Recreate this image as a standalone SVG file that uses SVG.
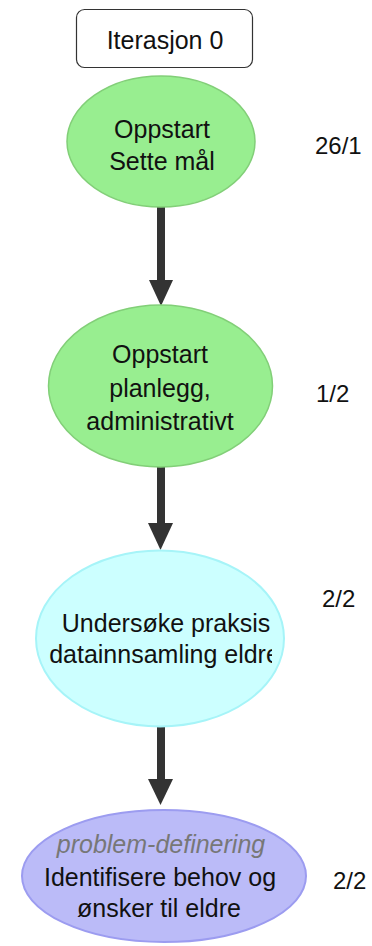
<svg xmlns="http://www.w3.org/2000/svg" width="372" height="946" viewBox="0 0 372 946">
  <defs>
    <style>
      text { font-family: "Liberation Sans", Arial, sans-serif; fill: #111; }
      .lbl { font-size: 25px; text-anchor: middle; }
      .side { font-size: 24px; }
      .sub { font-style: italic; fill: #777; }
      .arrow { stroke: #333; stroke-width: 8; fill: none; }
      .head { fill: #333; }
      .green { fill: #98ee90; stroke: #82cf78; stroke-width: 1.5; }
      .cyan { fill: #ccffff; stroke: #a6f4f8; stroke-width: 2; }
      .violet { fill: #bbbbf8; stroke: #9c9cf0; stroke-width: 2; }
    </style>
    <clipPath id="clip-undersoke">
      <rect x="30" y="560" width="242" height="160"/>
    </clipPath>
  </defs>

  <!-- connectors -->
  <g id="connectors">
    <line class="arrow" x1="161" y1="207" x2="161" y2="282"/>
    <polygon class="head" points="149,280 173,280 161,306"/>
    <line class="arrow" x1="161" y1="467" x2="161" y2="525"/>
    <polygon class="head" points="148,523 173,523 160.5,550"/>
    <line class="arrow" x1="161" y1="727" x2="161" y2="781"/>
    <polygon class="head" points="148,779 173,779 160.5,805"/>
  </g>

  <!-- iteration header -->
  <g id="iterasjon">
    <rect x="76.5" y="9.5" width="176" height="58" rx="8" fill="#fff" stroke="#333" stroke-width="1.2"/>
    <text class="lbl" x="165" y="49">Iterasjon 0</text>
  </g>

  <!-- steps -->
  <g id="oppstart-mal">
    <ellipse class="green" cx="161" cy="141.5" rx="94" ry="65.5"/>
    <text class="lbl" x="162" y="138">Oppstart</text>
    <text class="lbl" x="162" y="170">Sette mål</text>
  </g>

  <g id="oppstart-plan">
    <ellipse class="green" cx="160.5" cy="386" rx="112" ry="81"/>
    <text class="lbl" x="160" y="363">Oppstart</text>
    <text class="lbl" x="160" y="397">planlegg,</text>
    <text class="lbl" x="160" y="430">administrativt</text>
  </g>

  <g id="undersoke">
    <ellipse class="cyan" cx="160" cy="638.5" rx="124" ry="88"/>
    <g clip-path="url(#clip-undersoke)">
      <text class="lbl" x="166" y="632">Undersøke praksis</text>
      <text class="lbl" x="164.5" y="663">datainnsamling eldre</text>
    </g>
  </g>

  <g id="problem">
    <ellipse class="violet" cx="164" cy="876" rx="142" ry="66"/>
    <text class="lbl sub" x="161" y="853">problem-definering</text>
    <text class="lbl" x="160" y="886">Identifisere behov og</text>
    <text class="lbl" x="159" y="917">ønsker til eldre</text>
  </g>

  <!-- side counts -->
  <g id="counts">
    <text class="side" x="315" y="154">26/1</text>
    <text class="side" x="316" y="402">1/2</text>
    <text class="side" x="322" y="607">2/2</text>
    <text class="side" x="333" y="889">2/2</text>
  </g>
</svg>
